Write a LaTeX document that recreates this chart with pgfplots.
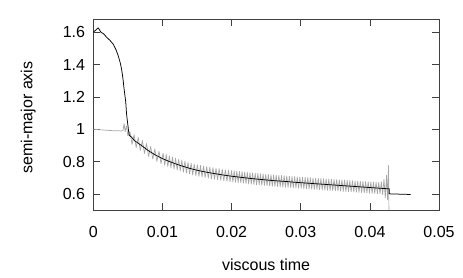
\documentclass[border=0pt]{standalone}
\usepackage{fontspec}
\setmainfont{Liberation Sans}
\usepackage{pgfplots}
\pgfplotsset{compat=1.18}
\begin{document}
\begin{tikzpicture}[font=\fontsize{16}{19}\selectfont]
\begin{axis}[
  name=main,
  scale only axis,
  width=345.7pt, height=190.7pt,
  xmin=0, xmax=0.05, ymin=0.5, ymax=1.68,
  xtick={0,0.01,0.02,0.03,0.04,0.05},
  xticklabels={0,0.01,0.02,0.03,0.04,0.05},
  ytick={0.6,0.8,1,1.2,1.4,1.6},
  yticklabels={0.6,0.8,1,1.2,1.4,1.6},
  scaled x ticks=false, scaled y ticks=false,
  /pgf/number format/assume math mode=true,
  tick align=inside, tick pos=both,
  major tick length=6.5pt,
  axis line style={black!75, line width=0.6pt},
  every tick/.style={black!75, line width=0.6pt},
  tick label style={font=\fontsize{16}{19}\selectfont},
  xticklabel style={yshift=-12.5pt},
  yticklabel style={xshift=-4.7pt},
  label style={font=\fontsize{16}{19}\selectfont},
  xlabel={viscous time},
  ylabel={semi-major axis},
  xlabel style={at={(axis description cs:0.5,-0.285)}, anchor=center},
  ylabel style={at={(axis description cs:-0.188,0.485)}, anchor=center},
  clip=true,
]
% grey series
\addplot[color=black!35, line width=0.7pt, line join=round] coordinates {
(0,1.000) (0.0005,0.998) (0.001,0.996) (0.0015,0.995) (0.002,0.993) (0.0025,0.992)
(0.003,0.990) (0.0035,0.991) (0.004,0.989) (0.0043,0.992) (0.00445,1.035) (0.0046,0.985)
(0.0048,1.02) (0.0050,0.96)
(0.0053,0.985) (0.0056,0.906) (0.0059,0.966) (0.0062,0.887) (0.0065,0.948) (0.0068,0.869)
(0.0071,0.930) (0.0074,0.850) (0.0077,0.911) (0.0080,0.831) (0.0083,0.893) (0.0086,0.815)
(0.0089,0.878) (0.0092,0.801) (0.0095,0.864) (0.0098,0.787) (0.0101,0.851)
(0.01033,0.777) (0.01055,0.843) (0.01078,0.769) (0.0110,0.835) (0.01123,0.761) (0.01145,0.828)
(0.01168,0.754) (0.0119,0.821) (0.01213,0.747) (0.01235,0.814) (0.01258,0.741) (0.0128,0.808)
(0.01303,0.734) (0.01325,0.802) (0.01348,0.729) (0.0137,0.796) (0.01393,0.723) (0.01415,0.790)
(0.01438,0.717) (0.0146,0.785) (0.01483,0.713) (0.01505,0.780) (0.01528,0.708) (0.0155,0.776)
(0.01573,0.704) (0.01595,0.772) (0.01618,0.701) (0.0164,0.769) (0.01663,0.697) (0.01685,0.765)
(0.01708,0.693) (0.0173,0.762) (0.01753,0.690) (0.01775,0.759) (0.01798,0.687) (0.0182,0.756)
(0.01843,0.684) (0.01865,0.753) (0.01888,0.681) (0.0191,0.749) (0.01933,0.678) (0.01955,0.747)
(0.01978,0.675) (0.0200,0.744)
(0.02019,0.673) (0.02038,0.742) (0.02057,0.671) (0.02076,0.740) (0.02095,0.670) (0.02114,0.739)
(0.02133,0.668) (0.02152,0.737) (0.02171,0.666) (0.0219,0.735) (0.02209,0.664) (0.02228,0.733)
(0.02247,0.662) (0.02266,0.731) (0.02285,0.660) (0.02304,0.729) (0.02323,0.658) (0.02342,0.727)
(0.02361,0.656) (0.0238,0.726) (0.02399,0.655) (0.02418,0.724) (0.02437,0.653) (0.02456,0.723)
(0.02475,0.652) (0.02494,0.721) (0.02513,0.650) (0.02532,0.720) (0.02551,0.649) (0.0257,0.718)
(0.02589,0.647) (0.02608,0.717) (0.02627,0.646) (0.02646,0.715) (0.02665,0.645) (0.02684,0.714)
(0.02703,0.644) (0.02722,0.713) (0.02741,0.642) (0.0276,0.712) (0.02779,0.641) (0.02798,0.711)
(0.02817,0.640) (0.02836,0.709) (0.02855,0.639) (0.02874,0.708) (0.02893,0.637) (0.02912,0.707)
(0.02931,0.636) (0.0295,0.705) (0.02969,0.635) (0.02988,0.704) (0.03007,0.634) (0.03026,0.703)
(0.03045,0.632) (0.03064,0.702) (0.03083,0.631) (0.03102,0.701) (0.03121,0.630) (0.0314,0.700)
(0.03159,0.629) (0.03178,0.698) (0.03197,0.628) (0.03216,0.697) (0.03235,0.627) (0.03254,0.696)
(0.03273,0.626) (0.03292,0.695) (0.03311,0.624) (0.0333,0.694) (0.03349,0.623) (0.03368,0.693)
(0.03387,0.622) (0.03406,0.692) (0.03425,0.621) (0.03444,0.690) (0.03463,0.620) (0.03482,0.689)
(0.03501,0.619) (0.0352,0.688) (0.03539,0.618) (0.03558,0.687) (0.03577,0.617) (0.03596,0.686)
(0.03615,0.615) (0.03634,0.685) (0.03653,0.614) (0.03672,0.684) (0.03691,0.613) (0.0371,0.682)
(0.03729,0.612) (0.03748,0.681) (0.03767,0.611) (0.03786,0.680) (0.03805,0.610) (0.03824,0.679)
(0.03843,0.609) (0.03862,0.678) (0.03881,0.608) (0.039,0.677) (0.03919,0.606) (0.03938,0.676)
(0.03957,0.605) (0.03976,0.675) (0.03995,0.604) (0.04014,0.674) (0.04033,0.603) (0.04052,0.673)
(0.04071,0.602) (0.0409,0.672) (0.04109,0.601) (0.04128,0.671) (0.04147,0.600) (0.04166,0.675)
(0.04185,0.595) (0.04204,0.690) (0.04223,0.575) (0.04242,0.715) (0.04255,0.565) (0.0427,0.775)
(0.04277,0.45)
};
% black series
\addplot[color=black, line width=0.75pt, line join=round] coordinates {
(0,1.600) (0.0004,1.615) (0.0007,1.627) (0.0009,1.615) (0.0011,1.600) (0.0015,1.590)
(0.0019,1.570) (0.0024,1.550) (0.0029,1.525) (0.0033,1.490) (0.0036,1.455) (0.0039,1.410)
(0.0041,1.370) (0.0043,1.310) (0.0044,1.268) (0.0046,1.200) (0.0047,1.165) (0.0048,1.100)
(0.0049,1.061) (0.0051,0.990) (0.0052,0.962) (0.0055,0.952) (0.0058,0.937) (0.006,0.928)
(0.007,0.898) (0.008,0.866) (0.009,0.840) (0.010,0.818) (0.011,0.800) (0.012,0.784)
(0.013,0.770) (0.014,0.757) (0.015,0.746) (0.016,0.737) (0.017,0.729) (0.018,0.722)
(0.019,0.715) (0.020,0.709) (0.021,0.704) (0.022,0.699) (0.023,0.694) (0.024,0.690)
(0.025,0.686) (0.026,0.682) (0.027,0.679) (0.028,0.676) (0.029,0.672) (0.030,0.669)
(0.031,0.666) (0.032,0.663) (0.033,0.660) (0.034,0.657) (0.035,0.654) (0.036,0.651)
(0.037,0.648) (0.038,0.645) (0.039,0.642) (0.040,0.639) (0.041,0.636) (0.042,0.633)
(0.0428,0.631) (0.0428,0.600) (0.0459,0.596)
};
\end{axis}
\pgfresetboundingbox
\path ([xshift=-93.3pt,yshift=-68pt]main.south west) rectangle ([xshift=24pt,yshift=19.3pt]main.north east);
\end{tikzpicture}
\end{document}
